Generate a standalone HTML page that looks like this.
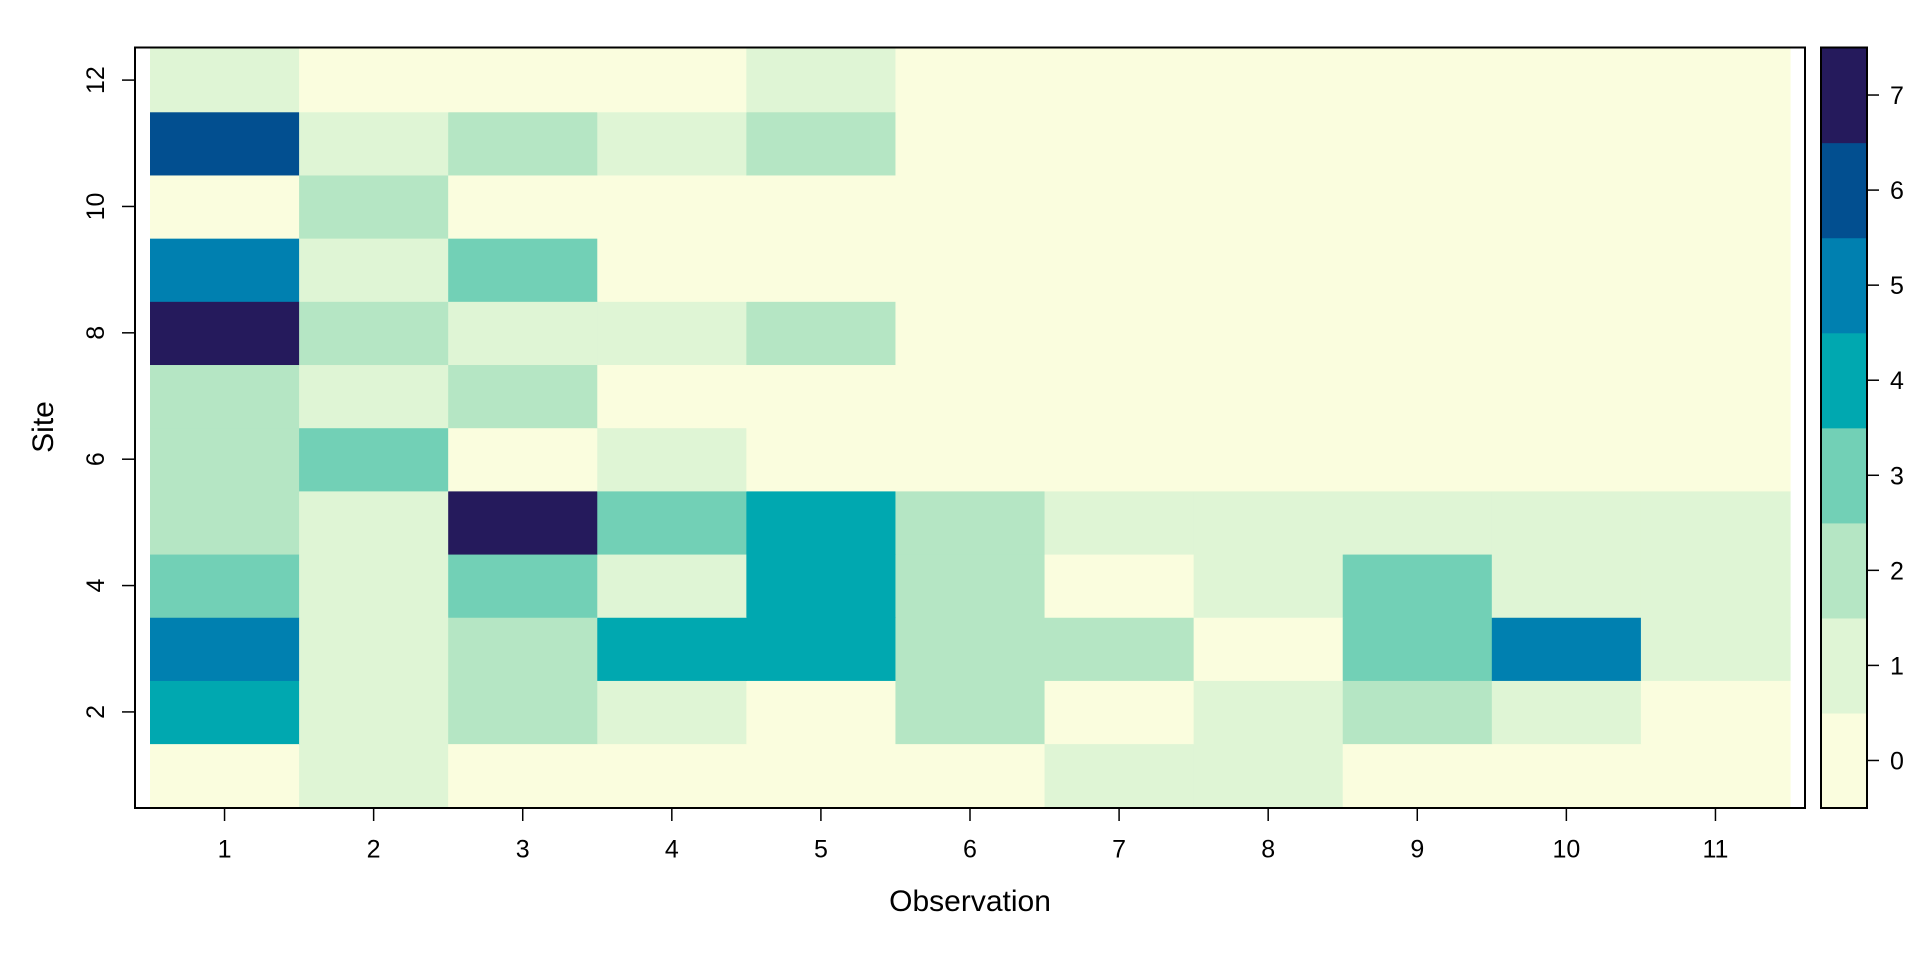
<!DOCTYPE html>
<html><head><meta charset="utf-8"><style>html,body{margin:0;padding:0;background:#fff}svg{display:block}</style></head>
<body>
<svg xmlns="http://www.w3.org/2000/svg" width="1920" height="960" viewBox="0 0 1920 960" font-family="Liberation Sans, sans-serif">
<g id="cells"></g>
<script>
(function(){
var cols=["#FAFDDE","#DFF5D5","#B5E6C4","#72D0B6","#00A8B0","#0080B0","#024F90","#251A5C"];
var d={12:[1,0,0,0,1,0,0,0,0,0,0],11:[6,1,2,1,2,0,0,0,0,0,0],10:[0,2,0,0,0,0,0,0,0,0,0],9:[5,1,3,0,0,0,0,0,0,0,0],8:[7,2,1,1,2,0,0,0,0,0,0],7:[2,1,2,0,0,0,0,0,0,0,0],6:[2,3,0,1,0,0,0,0,0,0,0],5:[2,1,7,3,4,2,1,1,1,1,1],4:[3,1,3,1,4,2,0,1,3,1,1],3:[5,1,2,4,4,2,2,0,3,5,1],2:[4,1,2,1,0,2,0,1,2,1,0],1:[0,1,0,0,0,0,1,1,0,0,0]};
var g=document.getElementById("cells"),ns="http://www.w3.org/2000/svg";
var x0=150,cw=(1790-150)/11,yb=806.7,rh=(806.7-48.5)/12;
for(var s=1;s<=12;s++)for(var c=0;c<11;c++){var r=document.createElementNS(ns,"rect");
r.setAttribute("x",x0+c*cw);r.setAttribute("y",yb-s*rh);r.setAttribute("width",cw+0.6);r.setAttribute("height",rh+0.6);r.setAttribute("fill",cols[d[s][c]]);g.appendChild(r);}
var bt=47.5,bb=808,bh=(bb-bt)/8;
for(var i=0;i<8;i++){var r=document.createElementNS(ns,"rect");r.setAttribute("x",1821);r.setAttribute("y",bb-(i+1)*bh);r.setAttribute("width",46);r.setAttribute("height",bh+0.6);r.setAttribute("fill",cols[i]);g.appendChild(r);
var l=document.createElementNS(ns,"line");l.setAttribute("x1",1867);l.setAttribute("x2",1879);var y=bb-(i+0.5)*bh;l.setAttribute("y1",y);l.setAttribute("y2",y);l.setAttribute("stroke","#000");l.setAttribute("stroke-width",1.5);g.appendChild(l);
var t=document.createElementNS(ns,"text");t.setAttribute("x",1890);t.setAttribute("y",y+9);t.setAttribute("font-size",25);t.textContent=i;g.appendChild(t);}
for(var c=0;c<11;c++){var x=x0+(c+0.5)*cw;var l=document.createElementNS(ns,"line");l.setAttribute("x1",x);l.setAttribute("x2",x);l.setAttribute("y1",808);l.setAttribute("y2",821);l.setAttribute("stroke","#000");l.setAttribute("stroke-width",1.5);g.appendChild(l);
var t=document.createElementNS(ns,"text");t.setAttribute("x",x);t.setAttribute("y",857.5);t.setAttribute("font-size",25);t.setAttribute("text-anchor","middle");t.textContent=c+1;g.appendChild(t);}
for(var s=2;s<=12;s+=2){var y=yb-(s-0.5)*rh;var l=document.createElementNS(ns,"line");l.setAttribute("x1",122);l.setAttribute("x2",135);l.setAttribute("y1",y);l.setAttribute("y2",y);l.setAttribute("stroke","#000");l.setAttribute("stroke-width",1.5);g.appendChild(l);
var t=document.createElementNS(ns,"text");t.setAttribute("transform","translate(104,"+y+") rotate(-90)");t.setAttribute("font-size",25);t.setAttribute("text-anchor","middle");t.textContent=s;g.appendChild(t);}
})();
</script>
<rect x="135" y="47.5" width="1670" height="760.5" fill="none" stroke="#000" stroke-width="2"/>
<rect x="1821" y="47.5" width="46" height="760.5" fill="none" stroke="#000" stroke-width="2"/>
<text x="970" y="911" font-size="30" text-anchor="middle">Observation</text>
<text transform="translate(53,427) rotate(-90)" font-size="30" text-anchor="middle">Site</text>
</svg>
</body></html>
